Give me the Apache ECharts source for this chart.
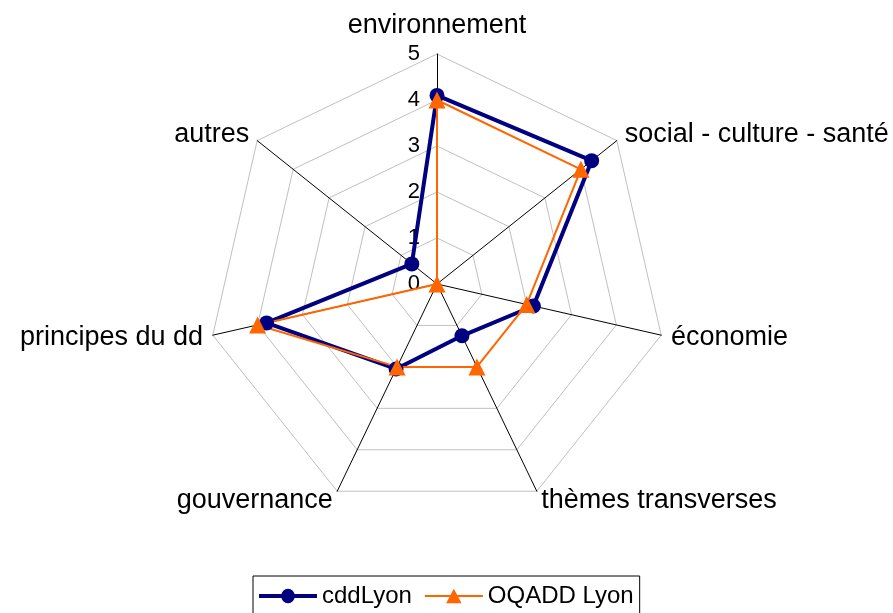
<!DOCTYPE html>
<html lang="fr">
  <head>
    <meta charset="UTF-8" />
    <title>Radar cddLyon / OQADD Lyon</title>
    <script src="https://cdn.jsdelivr.net/npm/echarts@6/dist/echarts.min.js"></script>
    <style>
      html, body { margin: 0; padding: 0; background: #fff; }
    </style>
  </head>
  <body>
    <div id="container" style="width: 893px;height: 613px"></div>
    <script>
      // axes du radar, sens horaire depuis le haut
      var themes = ['environnement', 'social - culture - santé', 'économie', 'thèmes transverses', 'gouvernance', 'principes du dd', 'autres']
      var cddLyon = [4.1, 4.3, 2.15, 1.25, 2.05, 3.8, 0.7]
      var oqaddLyon = [4.0, 4.0, 2.0, 2.0, 2.0, 4.0, 0]
      var maxValue = 5

      var font = 'Liberation Sans, Arial, sans-serif'
      var myChart = echarts.init(document.querySelector('#container'))

      // echarts tourne dans le sens anti-horaire : on inverse l'ordre après le premier axe
      var order = [0, 6, 5, 4, 3, 2, 1]
      function reorder(arr) {
        return order.map(function(i) { return arr[i] })
      }

      var indicator = reorder(themes).map(function(name, i) {
        var item = { name: name, min: 0, max: maxValue, nameGap: 10 }
        // graduations 0..5 uniquement sur l'axe du haut
        if (i === 0) {
          item.axisLabel = { show: true }
          item.nameGap = 15
        }
        return item
      })

      myChart.setOption({
        backgroundColor: '#fff',
        animation: false,
        textStyle: { fontFamily: font },
        legend: {
          top: 576,
          left: 253,
          itemWidth: 58,
          itemHeight: 15,
          itemGap: 13,
          padding: [8, 6, 8, 6],
          borderColor: '#000',
          borderWidth: 1,
          textStyle: { fontSize: 24, color: '#000', fontFamily: font },
          data: [
            { name: 'cddLyon', icon: 'path://M0,5.5H60V9.5H0Z M37,7.5A7,7.5 0 1 1 23,7.5A7,7.5 0 1 1 37,7.5Z' },
            { name: 'OQADD Lyon', icon: 'path://M0,6.5H60V8.5H0Z M30,0L38,15H22Z' }
          ]
        },
        radar: {
          center: [437, 284],
          radius: 230,
          startAngle: 90,
          shape: 'polygon',
          splitNumber: 5,
          indicator: indicator,
          axisName: { color: '#000', fontSize: 27, fontFamily: font },
          axisLine: { lineStyle: { color: '#000', width: 1 } },
          splitLine: { lineStyle: { color: '#c0c0c0', width: 1 } },
          splitArea: { show: false },
          axisTick: { show: false },
          axisLabel: { show: false, color: '#000', fontSize: 22, margin: 17, fontFamily: font }
        },
        series: [
          {
            type: 'radar',
            data: [
              {
                name: 'cddLyon',
                value: reorder(cddLyon),
                symbol: 'circle',
                symbolSize: 15,
                itemStyle: { color: '#000080' },
                lineStyle: { color: '#000080', width: 4 }
              },
              {
                name: 'OQADD Lyon',
                value: reorder(oqaddLyon),
                symbol: 'triangle',
                symbolSize: 17,
                itemStyle: { color: '#ff6600' },
                lineStyle: { color: '#ff6600', width: 2 }
              }
            ]
          }
        ]
      })
    </script>
  </body>
</html>
